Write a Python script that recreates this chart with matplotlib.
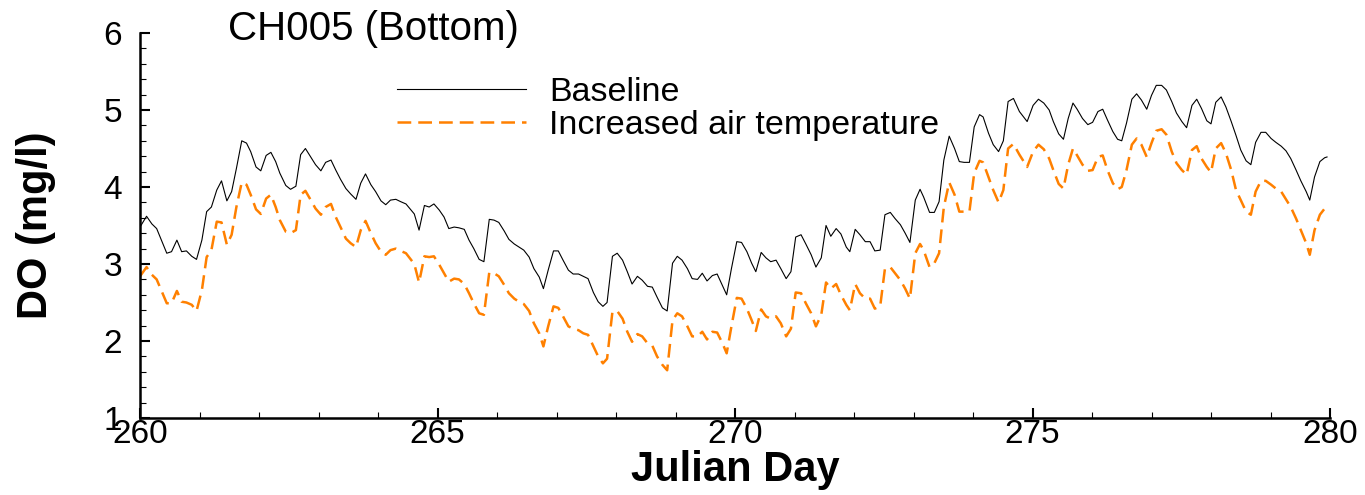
import matplotlib
matplotlib.use("Agg")
import matplotlib.pyplot as plt
from matplotlib.ticker import MultipleLocator

# Julian day of each sample
days = [
    260.00, 260.11, 260.20, 260.28, 260.45, 260.53, 260.62, 260.70, 260.78, 260.87,
    260.95, 261.04, 261.12, 261.20, 261.29, 261.37, 261.46, 261.54, 261.62, 261.71,
    261.79, 261.86, 261.95, 262.03, 262.12, 262.20, 262.28, 262.35, 262.45, 262.53,
    262.62, 262.70, 262.78, 262.87, 262.95, 263.04, 263.12, 263.21, 263.29, 263.37,
    263.46, 263.54, 263.63, 263.71, 263.79, 263.88, 263.96, 264.05, 264.13, 264.21,
    264.30, 264.38, 264.47, 264.61, 264.69, 264.78, 264.86,
    264.94, 265.03, 265.11, 265.19, 265.28, 265.36, 265.45, 265.53, 265.61, 265.70,
    265.78, 265.87, 265.95, 266.03, 266.12, 266.20, 266.29, 266.37, 266.45, 266.54,
    266.62, 266.71, 266.78, 266.86, 266.95, 267.03, 267.11, 267.20, 267.28, 267.37,
    267.45, 267.53, 267.62, 267.70, 267.78, 267.85, 267.94, 268.02, 268.11, 268.19,
    268.27, 268.36, 268.44, 268.53, 268.61, 268.69, 268.78, 268.86, 268.95, 269.03,
    269.11, 269.20, 269.28, 269.37, 269.45, 269.53, 269.62, 269.70, 269.79, 269.86,
    269.94, 270.03,
    270.11, 270.20, 270.28, 270.35, 270.44, 270.52, 270.60, 270.69, 270.77, 270.86,
    270.94, 271.02, 271.11, 271.19, 271.28, 271.36, 271.45, 271.53, 271.61, 271.70,
    271.78, 271.87, 271.93, 272.02, 272.10, 272.19, 272.27, 272.35, 272.44, 272.52,
    272.61, 272.69, 272.78, 272.86, 272.94, 273.03, 273.11,
    273.17, 273.27, 273.35, 273.43, 273.51, 273.60, 273.69, 273.77, 273.85, 273.94,
    274.02, 274.11, 274.17, 274.26, 274.34, 274.43, 274.51, 274.59, 274.68, 274.78,
    274.91, 275.01, 275.10, 275.19, 275.28, 275.35, 275.44, 275.52, 275.60, 275.68,
    275.75, 275.84, 275.93, 276.01, 276.10, 276.18, 276.26, 276.35, 276.43, 276.50,
    276.58, 276.67, 276.75, 276.83, 276.92, 277.00, 277.08, 277.17, 277.25, 277.34,
    277.42, 277.51, 277.59, 277.68, 277.76, 277.84, 277.93, 278.00, 278.08, 278.17,
    278.25, 278.34, 278.42, 278.50, 278.59, 278.67, 278.75, 278.84, 278.92, 279.01,
    279.09, 279.18, 279.26, 279.34, 279.43, 279.51, 279.60, 279.66, 279.74, 279.83,
    279.91, 279.95,
]

# DO (mg/l), baseline run
baseline = [
    3.48, 3.62, 3.52, 3.46, 3.14, 3.16, 3.31, 3.16, 3.17, 3.10,
    3.06, 3.31, 3.68, 3.74, 3.96, 4.08, 3.82, 3.94, 4.24, 4.60,
    4.57, 4.46, 4.26, 4.21, 4.41, 4.45, 4.33, 4.18, 4.02, 3.97,
    4.01, 4.42, 4.50, 4.39, 4.29, 4.21, 4.32, 4.35, 4.22, 4.10,
    3.98, 3.91, 3.84, 4.05, 4.17, 4.03, 3.94, 3.82, 3.77, 3.83,
    3.84, 3.81, 3.78, 3.65, 3.44, 3.76, 3.74,
    3.78, 3.70, 3.61, 3.46, 3.48, 3.47, 3.45, 3.31, 3.20, 3.06,
    3.03, 3.58, 3.57, 3.54, 3.43, 3.32, 3.26, 3.22, 3.18, 3.09,
    2.94, 2.83, 2.68, 2.92, 3.17, 3.17, 3.05, 2.92, 2.87, 2.87,
    2.84, 2.81, 2.63, 2.51, 2.45, 2.50, 3.10, 3.14, 3.05, 2.90,
    2.74, 2.84, 2.79, 2.71, 2.70, 2.57, 2.43, 2.39, 3.01, 3.10,
    3.05, 2.94, 2.81, 2.80, 2.88, 2.78, 2.85, 2.87, 2.72, 2.60,
    2.94, 3.29,
    3.28, 3.16, 3.01, 2.90, 3.15, 3.08, 3.03, 3.05, 2.94, 2.81,
    2.90, 3.35, 3.38, 3.26, 3.12, 2.96, 3.08, 3.50, 3.36, 3.46,
    3.39, 3.22, 3.16, 3.45, 3.38, 3.29, 3.29, 3.17, 3.18, 3.64,
    3.67, 3.59, 3.51, 3.40, 3.28, 3.83, 3.97,
    3.87, 3.67, 3.67, 3.81, 4.35, 4.66, 4.50, 4.33, 4.32, 4.32,
    4.78, 4.94, 4.91, 4.70, 4.55, 4.46, 4.60, 5.11, 5.15, 4.98,
    4.85, 5.06, 5.14, 5.09, 5.00, 4.85, 4.69, 4.62, 4.89, 5.09,
    5.01, 4.89, 4.81, 4.84, 4.98, 5.01, 4.87, 4.72, 4.62, 4.60,
    4.83, 5.14, 5.21, 5.13, 5.01, 5.19, 5.32, 5.32, 5.26, 5.11,
    4.96, 4.85, 4.77, 5.06, 5.14, 5.02, 4.86, 4.82, 5.10, 5.17,
    5.04, 4.85, 4.67, 4.48, 4.34, 4.29, 4.58, 4.71, 4.71, 4.63,
    4.58, 4.53, 4.47, 4.37, 4.22, 4.08, 3.94, 3.83, 4.13, 4.33,
    4.38, 4.39,
]

# DO (mg/l), increased air temperature run
warmer = [
    2.84, 2.96, 2.86, 2.80, 2.49, 2.49, 2.65, 2.51, 2.50, 2.47,
    2.39, 2.66, 3.09, 3.18, 3.55, 3.54, 3.25, 3.38, 3.74, 4.06,
    4.03, 3.90, 3.71, 3.65, 3.85, 3.90, 3.74, 3.57, 3.42, 3.40,
    3.44, 3.90, 3.95, 3.83, 3.72, 3.64, 3.74, 3.78, 3.61, 3.48,
    3.33, 3.27, 3.22, 3.44, 3.56, 3.40, 3.27, 3.16, 3.12, 3.18,
    3.20, 3.17, 3.14, 3.00, 2.76, 3.10, 3.09,
    3.10, 2.99, 2.88, 2.77, 2.81, 2.80, 2.74, 2.62, 2.49, 2.36,
    2.34, 2.89, 2.88, 2.84, 2.73, 2.62, 2.55, 2.51, 2.48, 2.39,
    2.23, 2.10, 1.93, 2.19, 2.45, 2.43, 2.32, 2.19, 2.16, 2.14,
    2.10, 2.08, 1.93, 1.80, 1.71, 1.77, 2.38, 2.39, 2.29, 2.12,
    1.99, 2.09, 2.06, 1.97, 1.94, 1.80, 1.69, 1.62, 2.27, 2.36,
    2.32, 2.19, 2.06, 2.06, 2.12, 2.02, 2.12, 2.11, 1.97, 1.84,
    2.19, 2.56,
    2.55, 2.42, 2.27, 2.13, 2.41, 2.32, 2.29, 2.32, 2.23, 2.06,
    2.16, 2.63, 2.62, 2.49, 2.36, 2.19, 2.34, 2.76, 2.68, 2.74,
    2.60, 2.47, 2.40, 2.74, 2.62, 2.55, 2.55, 2.42, 2.45, 2.94,
    2.96, 2.88, 2.79, 2.68, 2.55, 3.14, 3.26,
    3.18, 2.96, 3.01, 3.14, 3.74, 4.06, 3.90, 3.68, 3.68, 3.68,
    4.18, 4.34, 4.32, 4.13, 3.96, 3.80, 3.96, 4.50, 4.56, 4.42,
    4.26, 4.46, 4.55, 4.49, 4.37, 4.22, 4.04, 3.98, 4.29, 4.50,
    4.41, 4.29, 4.21, 4.22, 4.39, 4.41, 4.22, 4.05, 3.97, 4.00,
    4.22, 4.55, 4.63, 4.55, 4.39, 4.57, 4.73, 4.75, 4.68, 4.46,
    4.31, 4.22, 4.16, 4.48, 4.53, 4.37, 4.26, 4.19, 4.50, 4.57,
    4.44, 4.22, 3.96, 3.83, 3.68, 3.64, 3.94, 4.08, 4.08, 4.03,
    3.98, 3.94, 3.84, 3.74, 3.59, 3.44, 3.27, 3.12, 3.44, 3.64,
    3.72, 3.73,
]

plt.rcParams['font.family'] = ['Liberation Sans', 'DejaVu Sans']
tick_font = ['Liberation Sans Narrow', 'Liberation Sans', 'DejaVu Sans']

fig = plt.figure(figsize=(13.65, 4.95), dpi=100)
ax = fig.add_axes([140 / 1365, 1 - 418 / 495, 1190 / 1365, 385 / 495])

ax.plot(days, baseline, color='black', lw=0.8, label='Baseline')
ax.plot(days, warmer, color='#ff8000', lw=1.8, ls=(0, (5.5, 2.8)),
        label='Increased air temperature')

ax.set_xlim(260, 280)
ax.set_ylim(1, 6)
ax.xaxis.set_major_locator(MultipleLocator(5))
ax.xaxis.set_minor_locator(MultipleLocator(1))
ax.yaxis.set_major_locator(MultipleLocator(1))
ax.yaxis.set_minor_locator(MultipleLocator(0.2))

for s in ['top', 'right']:
    ax.spines[s].set_visible(False)
for s in ['left', 'bottom']:
    ax.spines[s].set_linewidth(1.8)

ax.tick_params(which='major', direction='in', length=7, width=1.5)
ax.tick_params(which='minor', direction='in', length=4, width=0.8)
ax.tick_params(axis='x', which='major', pad=1)
ax.tick_params(axis='y', which='major', pad=13)
for lab in ax.get_xticklabels() + ax.get_yticklabels():
    lab.set_family(tick_font)
    lab.set_fontsize(24)

ax.set_xlabel('Julian Day', fontsize=30, fontweight='bold', labelpad=0)
ax.set_ylabel('DO (mg/l)', fontsize=30, fontweight='bold', labelpad=34)

fig.text(228 / 1365, 1 - 40 / 495, 'CH005 (Bottom)', fontsize=29, va='baseline')

ax.legend(loc='upper left', bbox_to_anchor=(397 / 1365, 1 - 77 / 495),
          bbox_transform=fig.transFigure, frameon=False, fontsize=24.5,
          handlelength=3.8, handletextpad=0.66, labelspacing=0.05,
          borderpad=0, borderaxespad=0)

fig.savefig('out.png', dpi=100)
